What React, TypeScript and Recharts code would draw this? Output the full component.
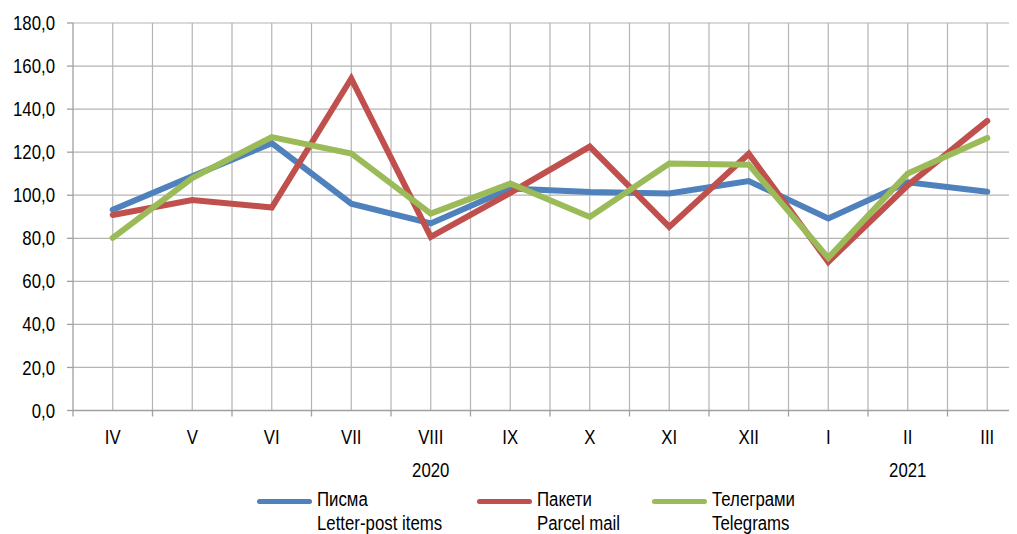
import React from 'react';
import { LineChart, Line, XAxis, YAxis, CartesianGrid } from 'recharts';

const months = ['IV', 'V', 'VI', 'VII', 'VIII', 'IX', 'X', 'XI', 'XII', 'I', 'II', 'III'];
const letters = [93.2, 108.8, 124.2, 96.1, 86.9, 103.1, 101.5, 100.8, 106.6, 89.2, 106.0, 101.6];
const parcels = [90.8, 97.8, 94.3, 154.2, 80.7, 101.1, 122.6, 85.3, 119.3, 69.0, 104.6, 134.5];
const telegrams = [80.2, 108.0, 127.0, 119.4, 91.5, 105.4, 89.9, 114.7, 114.2, 70.9, 110.1, 126.6];
const yTicks = [0, 20, 40, 60, 80, 100, 120, 140, 160, 180];
const yearLabels = ['2020', '2021'];
const yearStarts = [0, 9];
const yearCounts = [9, 3];

const seriesNames = [
  { key: 'letters', bg: 'Писма', en: 'Letter-post items', color: '#4F81BD' },
  { key: 'parcels', bg: 'Пакети', en: 'Parcel mail', color: '#C0504D' },
  { key: 'telegrams', bg: 'Телеграми', en: 'Telegrams', color: '#9BBB59' },
];

const data = months.map((m, i) => ({
  month: m,
  letters: letters[i],
  parcels: parcels[i],
  telegrams: telegrams[i],
}));

const FONT = "'Liberation Sans', Arial, sans-serif";
const SX = 0.84;
const CHART_W = 1040;
const CHART_H = 526;
const MARGIN = { top: 15, right: 21, bottom: 53.5, left: 0 };
const Y_W = 65;
const X_H = 70;
const PLOT_W = CHART_W - MARGIN.left - MARGIN.right - Y_W;
const PLOT_H = CHART_H - MARGIN.top - MARGIN.bottom - X_H;
const AXIS_Y = MARGIN.top + PLOT_H;
const GRID = '#b4b4b4';
const AXIS = '#a0a0a0';
const LEGEND_LEFTS = [249, 469, 644];

function NarrowText({ x, y, anchor, children, dy }: any) {
  return (
    <text
      transform={`translate(${x},${y}) scale(${SX},1)`}
      x={0}
      y={0}
      dy={dy}
      textAnchor={anchor}
      fontSize={20}
      fontFamily={FONT}
      fill="#000"
    >
      {children}
    </text>
  );
}

function XTick(props: any) {
  const { x, payload, index } = props;
  const bw = PLOT_W / months.length;
  const left = x - bw / 2;
  const yi = yearStarts.indexOf(index);
  return (
    <g>
      <line x1={left} x2={left} y1={AXIS_Y} y2={AXIS_Y + 6} stroke={AXIS} strokeWidth={1.3} />
      <NarrowText x={x} y={AXIS_Y + 33} anchor="middle">
        {payload.value}
      </NarrowText>
      {yi >= 0 && (
        <NarrowText x={left + (yearCounts[yi] * bw) / 2} y={AXIS_Y + 66.5} anchor="middle">
          {yearLabels[yi]}
        </NarrowText>
      )}
    </g>
  );
}

function YTick(props: any) {
  const { x, y, payload } = props;
  return (
    <NarrowText x={x} y={y} anchor="end" dy="0.355em">
      {Number(payload.value).toFixed(1).replace('.', ',')}
    </NarrowText>
  );
}

export default function App() {
  return (
    <div style={{ width: 1009, height: CHART_H, overflow: 'hidden', position: 'relative', fontFamily: FONT }}>
      <LineChart width={CHART_W} height={CHART_H} data={data} margin={MARGIN}>
        <CartesianGrid
          stroke={GRID}
          strokeWidth={1.2}
          horizontalValues={yTicks}
          verticalCoordinatesGenerator={({ offset }: any) => {
            const n = months.length * 2;
            const step = offset.width / n;
            const arr: number[] = [];
            for (let i = 1; i <= n; i++) arr.push(offset.left + i * step);
            return arr;
          }}
        />
        <XAxis
          dataKey="month"
          scale="band"
          height={X_H}
          interval={0}
          tickLine={false}
          axisLine={{ stroke: AXIS, strokeWidth: 1.3 }}
          tick={<XTick />}
        />
        <YAxis
          width={Y_W}
          domain={[0, 180]}
          ticks={yTicks}
          interval={0}
          tickSize={6}
          tickMargin={12}
          axisLine={{ stroke: AXIS, strokeWidth: 1.3 }}
          tickLine={{ stroke: AXIS, strokeWidth: 1.3 }}
          tick={<YTick />}
        />
        {seriesNames.map((s) => (
          <Line
            key={s.key}
            dataKey={s.key}
            stroke={s.color}
            strokeWidth={6}
            strokeLinecap="round"
            dot={false}
            activeDot={false}
            isAnimationActive={false}
            type="linear"
          />
        ))}
      </LineChart>
      {seriesNames.map((s, i) => (
        <div
          key={s.key}
          style={{
            position: 'absolute',
            top: 479,
            left: LEGEND_LEFTS[i],
            display: 'flex',
            flexDirection: 'row',
            alignItems: 'flex-start',
            fontSize: 20,
            lineHeight: '24px',
            color: '#000',
            whiteSpace: 'nowrap',
          }}
        >
          <div
            style={{
              width: 55,
              height: 5,
              borderRadius: 3,
              background: s.color,
              marginTop: 12,
            }}
          />
          <div style={{ marginLeft: 5, transform: `scaleX(${SX})`, transformOrigin: 'left top' }}>
            <div>{s.bg}</div>
            <div>{s.en}</div>
          </div>
        </div>
      ))}
    </div>
  );
}
